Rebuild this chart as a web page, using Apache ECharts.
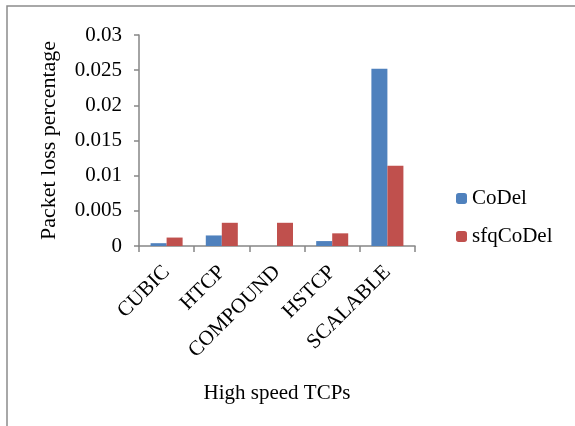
<!DOCTYPE html>
<html>
<head>
<meta charset="utf-8">
<script src="https://cdn.jsdelivr.net/npm/echarts@6/dist/echarts.min.js"></script>
<style>
  html, body { margin: 0; padding: 0; background: #fff; }
  #chart { width: 575px; height: 426px; }
</style>
</head>
<body>
<div id="chart"></div>
<script>
// data
const categories = ['CUBIC', 'HTCP', 'COMPOUND', 'HSTCP', 'SCALABLE'];
const codel = [0.0004, 0.0015, 0, 0.0007, 0.0252];
const sfqCodel = [0.0012, 0.0033, 0.0033, 0.0018, 0.0114];
const yTicks = [0, 0.005, 0.01, 0.015, 0.02, 0.025, 0.03];

const font = '"Liberation Serif", "Times New Roman", serif';
const myChart = echarts.init(document.getElementById('chart'));

let option = {
  animation: false,
  textStyle: { fontFamily: font, color: '#000' },
  graphic: [
    {
      type: 'polyline',
      shape: { points: [[7, 426], [7, 6], [575, 6]] },
      style: { stroke: '#8c8c8c', lineWidth: 1.5, fill: null }
    }
  ],
  legend: {
    orient: 'vertical',
    left: 451,
    top: 183,
    itemWidth: 11,
    itemHeight: 11,
    itemGap: 17,
    textStyle: { fontFamily: font, fontSize: 21, color: '#000' },
    data: ['CoDel', 'sfqCoDel']
  },
  grid: { left: 139, right: 160, top: 35, bottom: 180 },
  xAxis: {
    type: 'category',
    data: categories,
    name: 'High speed TCPs',
    nameLocation: 'middle',
    nameGap: 137,
    nameTextStyle: { fontFamily: font, fontSize: 21, color: '#000' },
    axisLine: { lineStyle: { color: '#868686', width: 1.5 } },
    axisTick: { show: true, length: 6, lineStyle: { color: '#868686', width: 1.5 } },
    axisLabel: { rotate: 45, fontFamily: font, fontSize: 21, color: '#000', margin: 23 }
  },
  yAxis: {
    type: 'value',
    min: 0,
    max: 0.03,
    interval: 0.005,
    name: 'Packet loss percentage',
    nameLocation: 'middle',
    nameRotate: 90,
    nameGap: 79,
    nameTextStyle: { fontFamily: font, fontSize: 22, color: '#000' },
    splitLine: { show: false },
    axisLine: { show: true, lineStyle: { color: '#868686', width: 1.5 } },
    axisTick: { show: true, length: 5, lineStyle: { color: '#868686', width: 1.5 } },
    axisLabel: {
      fontFamily: font, fontSize: 21, color: '#000', margin: 17,
      formatter: function (v) {
        const t = yTicks.find(x => Math.abs(x - v) < 1e-9);
        return t === undefined ? '' : String(t);
      }
    }
  },
  series: [
    {
      name: 'CoDel',
      type: 'bar',
      data: codel,
      barGap: '0%',
      barCategoryGap: '42%',
      itemStyle: { color: '#4F81BD' }
    },
    {
      name: 'sfqCoDel',
      type: 'bar',
      data: sfqCodel,
      barGap: '0%',
      barCategoryGap: '42%',
      itemStyle: { color: '#C0504D' }
    }
  ]
};
myChart.setOption(option);
</script>
</body>
</html>
